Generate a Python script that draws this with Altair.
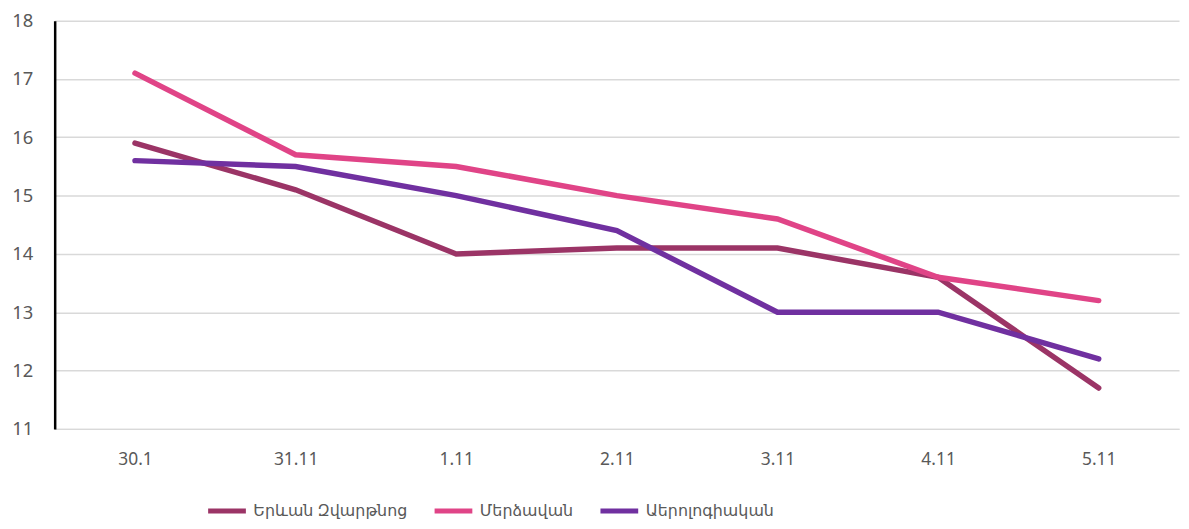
import altair as alt
import pandas as pd

dates = ["30.1", "31.11", "1.11", "2.11", "3.11", "4.11", "5.11"]
series_names = ["Երևան Զվարթնոց", "Մերձավան", "Աերոլոգիական"]
yerevan = [15.9, 15.1, 14.0, 14.1, 14.1, 13.6, 11.7]
merdzavan = [17.1, 15.7, 15.5, 15.0, 14.6, 13.6, 13.2]
aerolog = [15.6, 15.5, 15.0, 14.4, 13.0, 13.0, 12.2]
colors = ["#9B3466", "#E04487", "#7030A0"]

rows = []
for name, vals in zip(series_names, [yerevan, merdzavan, aerolog]):
    for i, (d, v) in enumerate(zip(dates, vals)):
        rows.append({"date": d, "value": v, "series": name, "order": i})
df = pd.DataFrame(rows)

font = "Noto Sans, DejaVu Sans, sans-serif"

chart = alt.Chart(df).mark_line(strokeWidth=5.5, strokeCap="round", strokeJoin="miter").encode(
    x=alt.X("date:O", sort=dates, title=None,
            axis=alt.Axis(labelAngle=0, ticks=False, domainColor="#D9D9D9", domainWidth=1.5,
                          labelPadding=22, labelFontSize=17.5, labelColor="#595959",
                          labelFont=font, grid=False)),
    y=alt.Y("value:Q", title=None,
            scale=alt.Scale(domain=[11, 18], nice=False, zero=False),
            axis=alt.Axis(values=[11, 12, 13, 14, 15, 16, 17, 18], ticks=False,
                          domainColor="#000000", domainWidth=2.5,
                          gridColor="#D9D9D9", gridWidth=1.5,
                          labelPadding=22, labelFontSize=18.5, labelColor="#595959",
                          labelFont=font)),
    color=alt.Color("series:N", sort=series_names,
                    scale=alt.Scale(domain=series_names, range=colors),
                    legend=alt.Legend(title=None, orient="none", legendX=152, legendY=472,
                                      direction="horizontal", symbolType="stroke",
                                      symbolSize=1444, symbolStrokeWidth=5,
                                      labelFontSize=16, labelColor="#595959", labelFont=font,
                                      labelLimit=400, columnPadding=16, labelOffset=5)),
    order="order:Q",
).properties(
    width=1132, height=411,
    autosize=alt.AutoSizeParams(type="none"),
    padding={"left": 47, "top": 11, "right": 2, "bottom": 91},
).configure_view(stroke=None)

chart.save("out.html", embed_options={"renderer": "svg", "actions": False})
